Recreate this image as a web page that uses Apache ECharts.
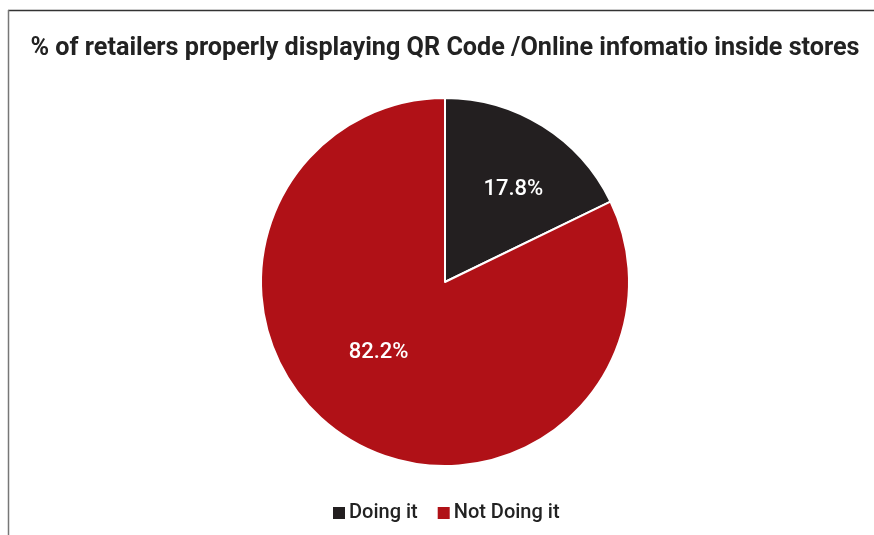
<!DOCTYPE html>
<html>
<head>
<meta charset="utf-8">
<style>
  html, body { margin: 0; padding: 0; background: #ffffff; }
  #chart { width: 874px; height: 535px; }
</style>
<script src="https://cdn.jsdelivr.net/npm/echarts@6/dist/echarts.min.js"></script>
</head>
<body>
<div id="chart"></div>
<script>
// Share of retailers showing QR code / online information in store
const categories = ['Doing it', 'Not Doing it'];
const shares = [17.8, 82.2];
const sliceColors = ['#231f20', '#b01117'];
// nudges for the in-slice percentage labels
const labelNudges = [[18, -12], [-16, -10]];

const chart = echarts.init(document.getElementById('chart'));

chart.setOption({
  backgroundColor: '#ffffff',
  animation: false,
  title: {
    text: '% of retailers properly displaying QR Code /Online infomatio inside stores',
    left: 440,
    textAlign: 'center',
    top: 31,
    textStyle: {
      fontFamily: 'Roboto',
      fontWeight: 'bold',
      fontSize: 25.2,
      color: '#222222'
    }
  },
  legend: {
    data: categories,
    bottom: 12,
    left: 331,
    padding: 0,
    itemWidth: 14,
    itemHeight: 14,
    itemGap: 18,
    icon: 'rect',
    textStyle: {
      fontFamily: 'Roboto',
      fontSize: 20,
      fontWeight: 500,
      color: '#222222',
      padding: [0, 0, 0, -2]
    }
  },
  graphic: [
    {
      type: 'line',
      shape: { x1: 8, y1: 10.5, x2: 874, y2: 10.5 },
      style: { stroke: '#333333', lineWidth: 1.5 }
    },
    {
      type: 'line',
      shape: { x1: 8.5, y1: 10, x2: 8.5, y2: 535 },
      style: { stroke: '#777777', lineWidth: 1.5 }
    }
  ],
  series: [{
    type: 'pie',
    center: [445, 282],
    radius: 184,
    startAngle: 90,
    clockwise: true,
    itemStyle: { borderColor: '#ffffff', borderWidth: 2 },
    label: {
      position: 'inside',
      formatter: function (p) { return p.value.toFixed(1) + '%'; },
      fontFamily: 'Roboto',
      fontSize: 22,
      fontWeight: 500,
      color: '#ffffff'
    },
    labelLine: { show: false },
    emphasis: { disabled: true },
    data: categories.map(function (name, i) {
      return {
        name: name,
        value: shares[i],
        itemStyle: { color: sliceColors[i] },
        label: { offset: labelNudges[i] }
      };
    })
  }]
});
</script>
</body>
</html>
